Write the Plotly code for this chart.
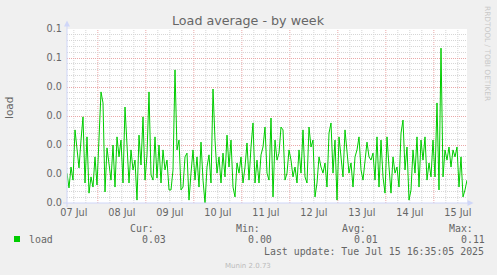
import pandas as pd
import plotly.graph_objects as go

# ---------------- data ----------------
load = [
    0.0103, 0.0052, 0.0124, 0.0079, 0.0252, 0.0193, 0.0121, 0.0217, 0.0297, 0.0069,
    0.0228, 0.0034, 0.0090, 0.0055, 0.0159, 0.0062, 0.0217, 0.0383, 0.0345, 0.0038,
    0.0190, 0.0124, 0.0079, 0.0200, 0.0055, 0.0228, 0.0159, 0.0217, 0.0069,
    0.0331, 0.0183, 0.0069, 0.0183, 0.0114, 0.0148, 0.0010, 0.0234, 0.0131, 0.0297,
    0.0079, 0.0166, 0.0383, 0.0097, 0.0079, 0.0228, 0.0086, 0.0200, 0.0069, 0.0183,
    0.0114, 0.0148, 0.0045, 0.0045, 0.0114, 0.0459, 0.0183, 0.0217, 0.0045,
    0.0055, 0.0159, 0.0172, 0.0010, 0.0103, 0.0183, 0.0079, 0.0159, 0.0055, 0.0210,
    0.0079, 0.0000, 0.0124, 0.0166, 0.0069, 0.0393, 0.0217, 0.0103, 0.0159, 0.0069,
    0.0172, 0.0090, 0.0234, 0.0124, 0.0217, 0.0055, 0.0021, 0.0138, 0.0103,
    0.0159, 0.0069, 0.0124, 0.0207, 0.0079, 0.0193, 0.0276, 0.0069, 0.0148, 0.0069,
    0.0166, 0.0193, 0.0262, 0.0103, 0.0079, 0.0293, 0.0021, 0.0217, 0.0148, 0.0172,
    0.0262, 0.0252, 0.0079, 0.0103, 0.0183, 0.0148, 0.0090, 0.0124, 0.0069,
    0.0183, 0.0103, 0.0252, 0.0090, 0.0069, 0.0262, 0.0193, 0.0217, 0.0021, 0.0069,
    0.0159, 0.0124, 0.0103, 0.0138, 0.0055, 0.0241, 0.0276, 0.0103, 0.0217, 0.0010,
    0.0228, 0.0159, 0.0090, 0.0252, 0.0183, 0.0103, 0.0138, 0.0055, 0.0159,
    0.0183, 0.0228, 0.0114, 0.0079, 0.0148, 0.0210, 0.0159, 0.0148, 0.0172, 0.0079,
    0.0228, 0.0055, 0.0217, 0.0090, 0.0034, 0.0228, 0.0124, 0.0034, 0.0159, 0.0103,
    0.0124, 0.0055, 0.0241, 0.0286, 0.0114, 0.0193, 0.0010, 0.0045, 0.0183,
    0.0103, 0.0228, 0.0055, 0.0217, 0.0148, 0.0228, 0.0079, 0.0138, 0.0090, 0.0217,
    0.0090, 0.0345, 0.0045, 0.0534, 0.0090, 0.0183, 0.0148, 0.0193, 0.0124, 0.0183,
    0.0159, 0.0193, 0.0055, 0.0159, 0.0021, 0.0045, 0.0079,
]
start = pd.Timestamp("2025-07-07 08:35:05")
end = pd.Timestamp("2025-07-15 16:35:05")
times = pd.date_range(start, periods=len(load), freq="h")

day_labels = ["07 Jul", "08 Jul", "09 Jul", "10 Jul", "11 Jul", "12 Jul", "13 Jul", "14 Jul", "15 Jul"]
label_pos = pd.date_range("2025-07-07 12:00", periods=len(day_labels), freq="D")
y_ticks = [0.0, 0.01, 0.02, 0.03, 0.04, 0.05, 0.06]
y_ticktext = ["0.0", "0.0", "0.0", "0.0", "0.0", "0.1", "0.1"]

legend_name = "load"
stat_names = ["Cur:", "Min:", "Avg:", "Max:"]
stat_values = ["0.03", "0.00", "0.01", "0.11"]
stat_x = [128, 234, 340, 447]

# ---------------- layout helpers ----------------
W, H = 497, 275
L, R, T, B = 67, 467, 29, 203
def px(x):
    return (x - L) / (R - L)
def py(y):
    return (B - y) / (B - T)

FONT_COL = "#666666"
AXIS_COL = "#CFD6F8"
MGRID = "#EAA8A8"
GRID = "#D6D6D6"
DOT = "1px,1px"

fig = go.Figure()
fig.add_trace(go.Scatter(x=times, y=load, mode="lines",
                         line=dict(color="#00CC00", width=1), showlegend=False,
                         hoverinfo="skip"))

shapes = []
# vertical grid: minor every 6h, major at midnight
t = start.ceil("6h")
while t <= end:
    major = (t.hour == 0)
    shapes.append(dict(type="line", xref="x", yref="paper", x0=t, x1=t, y0=0, y1=1,
                       line=dict(color=MGRID if major else GRID, width=1, dash=DOT),
                       layer="below"))
    t += pd.Timedelta(hours=6)

# axis lines & arrows
shapes.append(dict(type="line", xref="paper", yref="paper", x0=px(67), x1=px(67),
                   y0=py(207), y1=py(25), line=dict(color=AXIS_COL, width=1)))
shapes.append(dict(type="line", xref="paper", yref="paper", x0=px(63), x1=px(469),
                   y0=py(203), y1=py(203), line=dict(color=AXIS_COL, width=1)))
shapes.append(dict(type="path", xref="paper", yref="paper",
                   path=f"M {px(64)} {py(26.5)} L {px(70)} {py(26.5)} L {px(67)} {py(20.5)} Z",
                   fillcolor=AXIS_COL, line=dict(width=0)))
shapes.append(dict(type="path", xref="paper", yref="paper",
                   path=f"M {px(467.5)} {py(200)} L {px(467.5)} {py(206)} L {px(473.5)} {py(203)} Z",
                   fillcolor=AXIS_COL, line=dict(width=0)))
# legend swatch
shapes.append(dict(type="rect", xref="paper", yref="paper",
                   x0=px(14), x1=px(20), y0=py(242), y1=py(236),
                   fillcolor="#00CC00", line=dict(width=0)))

MONO = "DejaVu Sans Mono"
SANS = "DejaVu Sans"
ann = []
def add_text(x, y, text, size, color=FONT_COL, family=SANS, xanchor="left", angle=0):
    ann.append(dict(x=px(x), y=py(y), xref="paper", yref="paper", text=text,
                    showarrow=False, xanchor=xanchor, yanchor="middle",
                    textangle=angle, font=dict(family=family, size=size, color=color)))

add_text(248, 20, "Load average - by week", 12.7, xanchor="center")
add_text(9, 108, "load", 10.5, xanchor="center", angle=-90)
add_text(488, 53, "RRDTOOL / TOBI OETIKER", 7.4, color="#C8C8C8", xanchor="center", angle=90)
add_text(27, 239, legend_name, 9.9, family=MONO)
for sx, sn, sv in zip(stat_x, stat_names, stat_values):
    add_text(sx, 228, sn, 9.9, family=MONO)
    add_text(sx + 12, 239, sv, 9.9, family=MONO)
add_text(262, 251, "Last update: Tue Jul 15 16:35:05 2025", 9.9, family=MONO)
add_text(248, 266, "Munin 2.0.73", 7, color="#BBBBBB", xanchor="center")

fig.update_layout(
    width=W, height=H,
    margin=dict(l=L, r=W - R, t=T, b=H - B, pad=0),
    paper_bgcolor="#F0F0F0", plot_bgcolor="#FFFFFF",
    shapes=shapes, annotations=ann,
    xaxis=dict(type="date", range=[start, end], tickvals=label_pos, ticktext=day_labels,
               showgrid=False, zeroline=False, showline=False, ticks="",
               ticklabelstandoff=2,
               tickfont=dict(family=SANS, size=9.7, color=FONT_COL), fixedrange=True),
    yaxis=dict(range=[0, 0.06], tickvals=y_ticks, ticktext=y_ticktext,
               showgrid=True, gridcolor=MGRID, griddash=DOT, gridwidth=1,
               zeroline=False, showline=False, ticks="", ticklabelstandoff=4,
               minor=dict(dtick=0.002, tick0=0, showgrid=True, gridcolor=GRID,
                          griddash=DOT, gridwidth=1, ticks=""),
               tickfont=dict(family=SANS, size=9.7, color=FONT_COL), fixedrange=True),
)

fig.write_html("out.html")
